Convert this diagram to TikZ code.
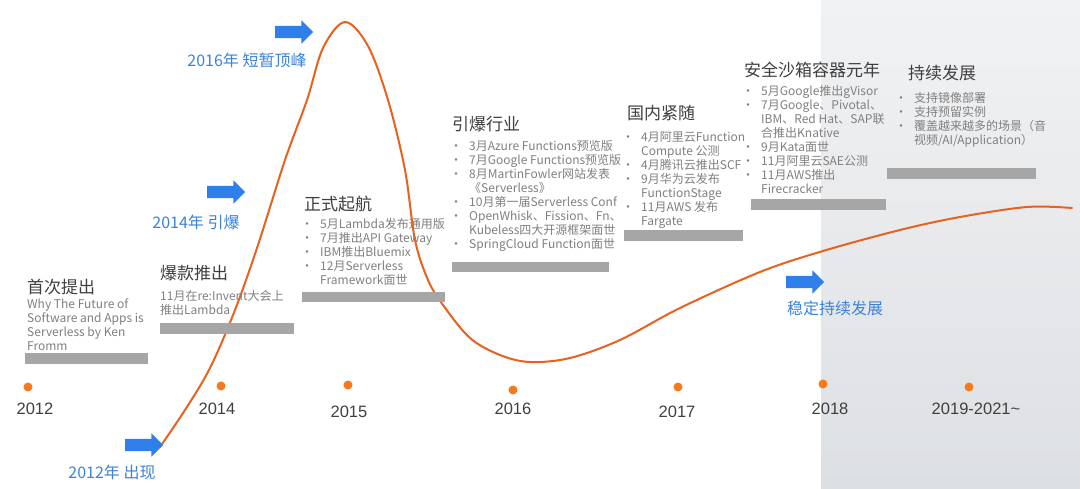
\documentclass[tikz,border=0pt]{standalone}
\usepackage{fontspec}
\setmainfont{Noto Sans CJK SC}
\newfontfamily\yearfont{Liberation Sans}
\usetikzlibrary{shapes.arrows}

\definecolor{curveorange}{HTML}{E8611F}
\definecolor{dotorange}{HTML}{F47A1C}
\definecolor{arrowblue}{HTML}{2F7FEA}
\definecolor{labelblue}{HTML}{3C82DC}
\definecolor{bargray}{HTML}{A6A6A6}
\definecolor{titlegray}{HTML}{3F3F3F}
\definecolor{bodygray}{HTML}{808080}
\definecolor{yeargray}{HTML}{404040}
\definecolor{bgtop}{HTML}{F1F2F4}
\definecolor{bgmid}{HTML}{D4D8DC}
\definecolor{bgbot}{HTML}{DDE0E3}

% bullet centred on the node's left edge, text 13pt further on
\newcommand{\itembul}{\makebox[13pt][l]{\makebox[0pt][c]{•}}}
\newcommand{\hangin}{\hspace*{13pt}}

\begin{document}
\begin{tikzpicture}[x=1pt,y=-1pt]
	\tikzset{
		blocktitle/.style={anchor=base west,inner sep=0pt,text=titlegray,font=\fontsize{17}{20}\selectfont},
		blocktext/.style={anchor=base west,inner sep=0pt,align=left,text=bodygray,font=\fontsize{12}{14}\selectfont},
		blockbar/.style={fill=bargray,draw=none},
		bluearr/.style={single arrow,fill=arrowblue,draw=none,minimum height=38pt,inner xsep=0pt,inner ysep=6pt,
			text height=0pt,text depth=0pt,single arrow head extend=5.5pt},
		bluelabel/.style={text=labelblue,font=\fontsize{16}{18}\selectfont,inner sep=0pt},
		yeardot/.style={circle,fill=dotorange,minimum size=9pt,inner sep=0pt},
		yearlabel/.style={text=yeargray,font=\yearfont\fontsize{16.5}{18}\selectfont,inner sep=0pt}
	}

	\useasboundingbox (0,0) rectangle (1080,488);
	\fill[white] (0,0) rectangle (1080,488);
	\shade[top color=bgtop,middle color=bgmid,bottom color=bgbot] (821,0) rectangle (1080,488);

	% hype curve
	\draw[curveorange,line width=2pt,line cap=round] plot[smooth,tension=0.55] coordinates {
		(160,447) (185,410) (210,368) (235,310) (258,245) (285,160) (307,100) (323,48) (345,22)
		(368,46) (388,100) (405,170) (415,240) (428,280) (443,305) (470,338) (500,355) (530,362)
		(570,358) (620,340) (680,308) (760,272) (823,251) (900,230) (960,217) (1027,207) (1072,208)};

	% blue arrows and stages
	\node[bluearr] (arr16) at (291,32) {};
	\node[bluelabel] (lab16) at (247,60) {2016年 短暂顶峰};
	\node[bluearr] (arr14) at (223,192) {};
	\node[bluelabel] (lab14) at (196,222) {2014年 引爆};
	\node[bluearr] (arr12) at (141,445) {};
	\node[bluelabel] (lab12) at (112,472) {2012年 出现};
	\node[bluearr] (arrst) at (802,282) {};
	\node[bluelabel] (labst) at (835,308) {稳定持续发展};

	% timeline
	\foreach \px/\py/\lx/\ly/\yr [count=\i] in {28/387/35/409/2012, 221/386/217/409/2014,
			348/385/349/412/2015, 513/390/513/409/2016, 678/387/677/412/2017,
			823/384/830/409/2018, 969/387/976/409/2019-2021\textasciitilde}
	{
		\node[yeardot] (dot\i) at (\px,\py) {};
		\node[yearlabel] (year\i) at (\lx,\ly) {\yr};
	}

	% 2012 (text nodes sit on the baseline of their last line)
	\node[blocktitle] (t1) at (27,293) {首次提出};
	\node[blocktext] (b1) at (27,350) {Why The Future of\\Software and Apps is\\Serverless by Ken\\Fromm};
	\fill[blockbar] (25,353) rectangle (148,364);

	% 2014
	\node[blocktitle] (t2) at (160,279) {爆款推出};
	\node[blocktext] (b2) at (160,314) {11月在re:Invent大会上\\推出Lambda};
	\fill[blockbar] (160,323) rectangle (294,334);

	% 2015
	\node[blocktitle] (t3) at (304,210) {正式起航};
	\node[blocktext] (b3) at (307,284) {\itembul 5月Lambda发布通用版\\\itembul 7月推出API Gateway\\
		\itembul IBM推出Bluemix\\\itembul 12月Serverless\\\hangin Framework面世};
	\fill[blockbar] (302,292) rectangle (445,302);

	% 2016
	\node[blocktitle] (t4) at (452,130) {引爆行业};
	\node[blocktext] (b4) at (456,248) {\itembul 3月Azure Functions预览版\\\itembul 7月Google Functions预览版\\
		\itembul 8月MartinFowler网站发表\\\hangin《Serverless》\\\itembul 10月第一届Serverless Conf\\
		\itembul OpenWhisk、Fission、Fn、\\\hangin Kubeless四大开源框架面世\\\itembul SpringCloud Function面世};
	\fill[blockbar] (452,262) rectangle (609,272);

	% 2017
	\node[blocktitle] (t5) at (627,119) {国内紧随};
	\node[blocktext] (b5) at (628,225) {\itembul 4月阿里云Function\\\hangin Compute 公测\\\itembul 4月腾讯云推出SCF\\
		\itembul 9月华为云发布\\\hangin FunctionStage\\\itembul 11月AWS 发布\\\hangin Fargate};
	\fill[blockbar] (624,230) rectangle (743,241);

	% 2018
	\node[blocktitle] (t6) at (744,76) {安全沙箱容器元年};
	\node[blocktext] (b6) at (748,193) {\itembul 5月Google推出gVisor\\\itembul 7月Google、Pivotal、\\
		\hangin IBM、Red Hat、SAP联\\\hangin 合推出Knative\\\itembul 9月Kata面世\\\itembul 11月阿里云SAE公测\\
		\itembul 11月AWS推出\\\hangin Firecracker};
	\fill[blockbar] (751,199) rectangle (886,210);

	% 2019-2021
	\node[blocktitle] (t7) at (908,79) {持续发展};
	\node[blocktext] (b7) at (901,144) {\itembul 支持镜像部署\\\itembul 支持预留实例\\
		\itembul 覆盖越来越多的场景（音\\\hangin 视频/AI/Application）};
	\fill[blockbar] (887,168) rectangle (1036,179);
\end{tikzpicture}
\end{document}
